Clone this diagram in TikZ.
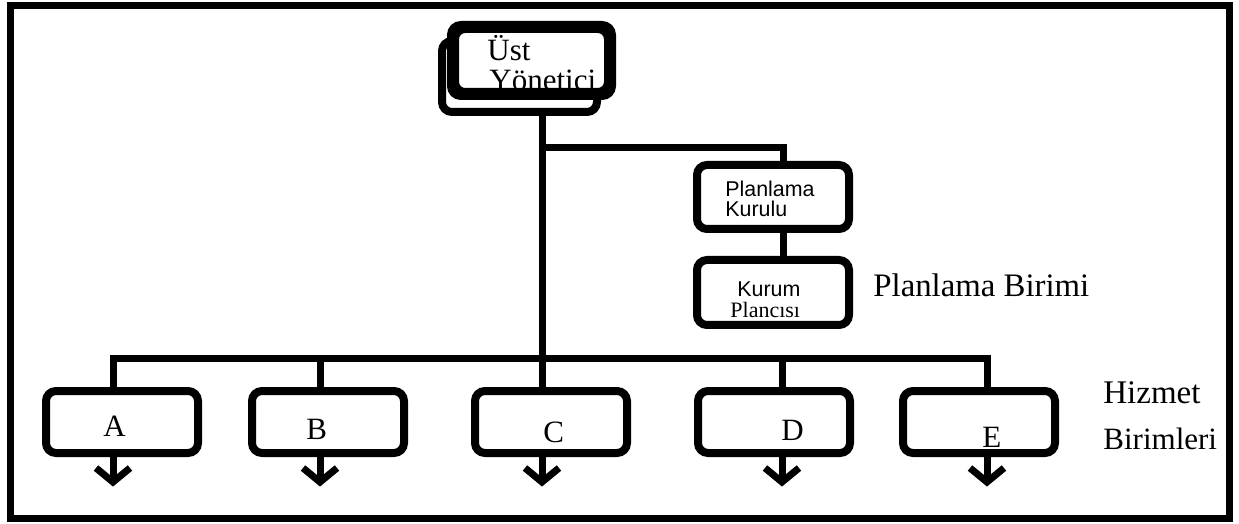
\documentclass[tikz,border=0pt]{standalone}
\usepackage{fontspec}
\setmainfont{Liberation Serif}
\newfontfamily\arialfont{Liberation Sans}
\begin{document}
\begin{tikzpicture}[x=0.5pt,y=-0.5pt,
  box/.style={draw,fill=white,line width=4pt,rounded corners=5pt,inner sep=0pt},
  boxline/.style={line width=4pt,rounded corners=5pt},
  unitbox/.style={box,minimum width=76pt,minimum height=31pt},
  conn/.style={line width=3.5pt,line join=miter},
  arrowhead/.style={line width=3.5pt,line join=miter,line cap=butt},
  frame/.style={line width=3.5pt},
  lbl/.style={inner sep=0pt,anchor=base west},
  big/.style={lbl,font=\fontsize{15.5pt}{18pt}\selectfont},
  small/.style={lbl,font=\fontsize{11pt}{13pt}\selectfont},
  smallsans/.style={lbl,font=\arialfont\fontsize{10.7pt}{13pt}\selectfont}]
\useasboundingbox (0,0) rectangle (1239,524);
% outer frame
\draw[frame] (10.5,5.5) rectangle (1229.5,518);

% connector junction points
\coordinate (tx) at (542,358);
\coordinate (br) at (542,148);
\coordinate (brk) at (783,148);
\coordinate (busA) at (113,358);
\coordinate (busB) at (320,358);
\coordinate (busD) at (782,358);
\coordinate (busE) at (987,358);

% top manager (stacked boxes)
\node[box,minimum width=77.5pt,minimum height=35.5pt] (back) at (519.5,76.5) {};
\draw[conn] (back.south -| tx) -- (tx);
\node[box,minimum width=76.5pt,minimum height=31.5pt] (front) at (531.5,60.5) {};
\node[big] (ust1) at (487,61) {Üst};
\node[big] (ust2) at (489,91) {Yönetici};
\draw[boxline] (front.south west) rectangle (front.north east);

% planning branch
\node[box,minimum width=76pt,minimum height=32pt] (pk) at (773,197) {};
\node[smallsans] (pk1) at (725,197) {Planlama};
\node[smallsans] (pk2) at (725,217) {Kurulu};
\node[box,minimum width=76pt,minimum height=32.5pt] (kp) at (773,292.5) {};
\node[smallsans] (kp1) at (737,297) {Kurum};
\node[small] (kp2) at (730,317) {Plancısı};
\draw[conn] (br) -- (brk) -- (pk.north -| brk);
\draw[conn] (pk.south -| brk) -- (kp.north -| brk);
\node[lbl,font=\fontsize{16.4pt}{18pt}\selectfont] (pb) at (873,297) {Planlama Birimi};

% service units
\node[unitbox] (A) at (122,422) {};
\node[unitbox] (B) at (328,422) {};
\node[unitbox] (C) at (551,422) {};
\node[unitbox] (D) at (774,422) {};
\node[unitbox] (E) at (979,422) {};
\node[big] (la) at (103,437) {A};
\node[big] (lb) at (306,439) {B};
\node[big] (lc) at (543,442) {C};
\node[big] (ld) at (781,440) {D};
\node[big] (le) at (982,447) {E};

\draw[conn] (A.north -| busA) -- (busA) -- (busE) -- (E.north -| busE);
\draw[conn] (busB) -- (B.north -| busB);
\draw[conn] (tx) -- (C.north -| tx);
\draw[conn] (busD) -- (D.north -| busD);

% downward arrows below each unit
\foreach \n/\c in {A/busA,B/busB,C/tx,D/busD,E/busE}{
  \draw[conn] (\n.south -| \c) -- ([yshift=-62pt]\c);
  \draw[arrowhead] ([xshift=-8.5pt,yshift=-55pt]\c) -- ([yshift=-62pt]\c) -- ([xshift=8.5pt,yshift=-55pt]\c);
}

\node[lbl,font=\fontsize{16.5pt}{18pt}\selectfont] (hz1) at (1103,403) {Hizmet};
\node[big] (hz2) at (1103,450) {Birimleri};
\end{tikzpicture}
\end{document}
